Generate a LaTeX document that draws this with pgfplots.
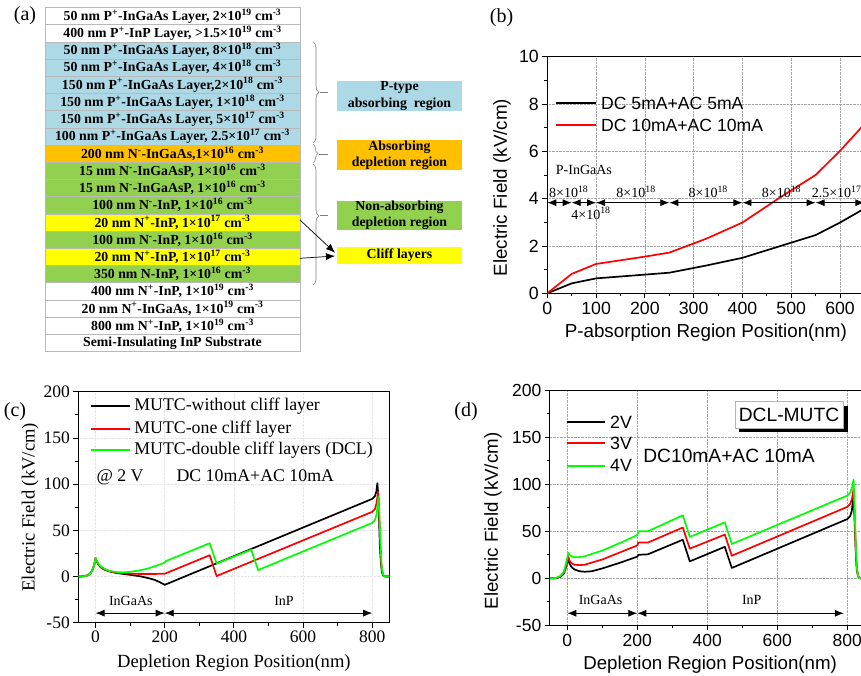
\documentclass[border=0pt]{standalone}
\usepackage{pgfplots}
\pgfplotsset{compat=1.18}
\usepackage{fontspec}
\setmainfont{Liberation Serif}
\newfontfamily\arial{Liberation Sans}
\usetikzlibrary{arrows.meta,decorations.pathreplacing}

\definecolor{lblue}{RGB}{173,216,230}
\definecolor{lorange}{RGB}{255,192,0}
\definecolor{lgreen}{RGB}{146,208,80}
\definecolor{lyellow}{RGB}{255,255,0}
\definecolor{pgreen}{RGB}{0,255,0}

\newcommand{\fs}[1]{\fontsize{#1}{#1}\selectfont}
% one layer of the stack in panel (a): row number, fill, text
\newcommand{\layer}[3]{%
  \draw[draw=gray!55, line width=0.5pt, fill=#2] (45,{7.4+17.2*(#1-1)}) rectangle (300,{7.4+17.2*#1});
  \node[font={\bfseries\fs{13.8}}] at (172.5,{7.4+17.2*(#1-0.5)}) {#3};}
% legend key drawn inside an axis: colour, x0, x1, xtext, y, text
\newcommand{\lkey}[6]{%
  \draw[#1, line width=1.7pt] (axis description cs:#2,#5) -- (axis description cs:#3,#5);
  \node[anchor=west, inner sep=0pt] at (axis description cs:#4,#5) {#6};}

\pgfplotsset{
  myaxis/.style={
    scale only axis, anchor=south west,
    axis line style={line width=0.9pt},
    tick style={line width=0.8pt, black},
    tick align=outside, major tick length=5pt, minor tick length=3pt,
    xtick pos=bottom, ytick pos=left,
    /pgf/number format/assume math mode=true,
    every axis plot/.append style={line width=1.7pt, line join=round},
  },
}
\tikzset{dar/.style={{Latex[length=9pt,width=7pt]}-{Latex[length=9pt,width=7pt]}, line width=0.8pt}}

\begin{document}
\begin{tikzpicture}
\useasboundingbox (0pt,0pt) rectangle (861pt,675pt);
\clip (0pt,0pt) rectangle (861pt,675pt);

% ---------------- (a) layer stack ----------------
\begin{scope}[shift={(0pt,675pt)}, x=1pt, y=-1pt]
\node[font=\fs{20}] at (25,16) {(a)};
\layer{1}{white}{50 nm P\textsuperscript{+}-InGaAs Layer, 2×10\textsuperscript{19} cm\textsuperscript{-3}}
\layer{2}{white}{400 nm P\textsuperscript{+}-InP Layer, >1.5×10\textsuperscript{19} cm\textsuperscript{-3}}
\layer{3}{lblue}{50 nm P\textsuperscript{+}-InGaAs Layer, 8×10\textsuperscript{18} cm\textsuperscript{-3}}
\layer{4}{lblue}{50 nm P\textsuperscript{+}-InGaAs Layer, 4×10\textsuperscript{18} cm\textsuperscript{-3}}
\layer{5}{lblue}{150 nm P\textsuperscript{+}-InGaAs Layer,2×10\textsuperscript{18} cm\textsuperscript{-3}}
\layer{6}{lblue}{150 nm P\textsuperscript{+}-InGaAs Layer, 1×10\textsuperscript{18} cm\textsuperscript{-3}}
\layer{7}{lblue}{150 nm P\textsuperscript{+}-InGaAs Layer, 5×10\textsuperscript{17} cm\textsuperscript{-3}}
\layer{8}{lblue}{100 nm P\textsuperscript{+}-InGaAs Layer, 2.5×10\textsuperscript{17} cm\textsuperscript{-3}}
\layer{9}{lorange}{200 nm N\textsuperscript{-}-InGaAs,1×10\textsuperscript{16} cm\textsuperscript{-3}}
\layer{10}{lgreen}{15 nm N\textsuperscript{-}-InGaAsP, 1×10\textsuperscript{16} cm\textsuperscript{-3}}
\layer{11}{lgreen}{15 nm N\textsuperscript{-}-InGaAsP, 1×10\textsuperscript{16} cm\textsuperscript{-3}}
\layer{12}{lgreen}{100 nm N\textsuperscript{-}-InP, 1×10\textsuperscript{16} cm\textsuperscript{-3}}
\layer{13}{lyellow}{20 nm N\textsuperscript{+}-InP, 1×10\textsuperscript{17} cm\textsuperscript{-3}}
\layer{14}{lgreen}{100 nm N\textsuperscript{-}-InP, 1×10\textsuperscript{16} cm\textsuperscript{-3}}
\layer{15}{lyellow}{20 nm N\textsuperscript{+}-InP, 1×10\textsuperscript{17} cm\textsuperscript{-3}}
\layer{16}{lgreen}{350 nm N-InP, 1×10\textsuperscript{16} cm\textsuperscript{-3}}
\layer{17}{white}{400 nm N\textsuperscript{+}-InP, 1×10\textsuperscript{19} cm\textsuperscript{-3}}
\layer{18}{white}{20 nm N\textsuperscript{+}-InGaAs, 1×10\textsuperscript{19} cm\textsuperscript{-3}}
\layer{19}{white}{800 nm N\textsuperscript{+}-InP, 1×10\textsuperscript{19} cm\textsuperscript{-3}}
\layer{20}{white}{Semi-Insulating InP Substrate}

% braces
\draw[gray, line width=0.6pt, decorate, decoration={brace, amplitude=6pt}] (313,41.7) -- (313,143);
\draw[gray, line width=0.6pt] (320,92.3) -- (328,92.3);
\draw[gray, line width=0.6pt, decorate, decoration={brace, amplitude=5pt}] (313,144) -- (313,163);
\draw[gray, line width=0.6pt] (319,154.3) -- (328,154.3);
\draw[gray, line width=0.6pt, decorate, decoration={brace, amplitude=6pt, aspect=0.43}] (313,164) -- (313,285);
\draw[gray, line width=0.6pt] (320,215.7) -- (328,215.7);

% region boxes
\begin{scope}[every node/.style={align=center, font={\bfseries\fontsize{13.8}{16.3}\selectfont}}]
\fill[lblue] (336.7,81) rectangle (462.3,111);
\node at (399.5,96) {P-type\\absorbing\ \ region};
\fill[lorange] (336.7,140) rectangle (462.3,170);
\node at (399.5,155) {Absorbing\\depletion region};
\fill[lgreen] (336.7,200.7) rectangle (462.3,230);
\node at (399.5,215.3) {Non-absorbing\\depletion region};
\fill[lyellow] (336.7,246.7) rectangle (462.3,264.3);
\node at (399.5,255.5) {Cliff layers};
\end{scope}
\draw[-{Latex[length=9pt,width=7pt]}, line width=0.7pt] (300,220) -- (335,252.7);
\draw[-{Latex[length=9pt,width=7pt]}, line width=0.7pt] (300,258.3) -- (335,256);
\end{scope}

% ---------------- (b) ----------------
\node[font=\fs{20}] at (501.5pt,657pt) {(b)};
\begin{axis}[myaxis, at={(547.3pt,381.7pt)}, width=317.1pt, height=236.6pt,
  xmin=0, xmax=650, ymin=0, ymax=10,
  xtick={0,100,...,600}, ytick={0,2,...,10},
  minor x tick num=1, minor y tick num=1,
  grid=major, grid style={densely dotted, gray!70, line width=0.6pt},
  ticklabel style={font={\arial\fs{17.7}}},
  xlabel={P-absorption Region Position(nm)}, ylabel={Electric Field (kV/cm)},
  label style={font={\arial\fs{18.8}}},
  xlabel style={at={(axis description cs:0.5,-0.168)}, anchor=center},
  ylabel style={at={(axis description cs:-0.143,0.447)}, anchor=center},
]
\addplot[black] coordinates {(0,0) (50,0.42) (100,0.63) (175,0.75) (250,0.87) (325,1.17) (400,1.5) (475,1.98) (550,2.46) (600,2.99) (650,3.58)};
\addplot[red] coordinates {(0,0) (50,0.82) (100,1.24) (200,1.55) (250,1.72) (325,2.3) (400,2.99) (477,4.05) (550,5.0) (600,6.02) (650,7.15)};
\begin{scope}[every node/.style={font={\arial\fs{17.6}}}]
\lkey{black}{0.0274}{0.1536}{0.1693}{0.804}{DC 5mA+AC 5mA}
\lkey{red}{0.0274}{0.1536}{0.1693}{0.711}{DC 10mA+AC 10mA}
\end{scope}
\node[font=\fs{14}] at (axis cs:75,5.21) {P-InGaAs};
\draw[dar] (axis cs:0,3.83) -- (axis cs:50,3.83);
\draw[dar] (axis cs:50,3.83) -- (axis cs:100,3.83);
\draw[dar] (axis cs:100,3.83) -- (axis cs:250,3.83);
\draw[dar] (axis cs:250,3.83) -- (axis cs:400,3.83);
\draw[dar] (axis cs:400,3.83) -- (axis cs:550,3.83);
\draw[dar] (axis cs:550,3.83) -- (axis cs:650,3.83);
\node[font=\fs{14}, inner sep=0pt] at (axis cs:44,4.3) {8×10\textsuperscript{18}};
\node[font=\fs{14}, inner sep=0pt] at (axis cs:89.5,3.38) {4×10\textsuperscript{18}};
\node[font=\fs{14}, inner sep=0pt] at (axis cs:182,4.3) {8×10\textsuperscript{18}};
\node[font=\fs{14}, inner sep=0pt] at (axis cs:330,4.3) {8×10\textsuperscript{18}};
\node[font=\fs{14}, inner sep=0pt] at (axis cs:480,4.3) {8×10\textsuperscript{18}};
\node[font=\fs{14}, inner sep=0pt] at (axis cs:593,4.3) {2.5×10\textsuperscript{17}};
\end{axis}

% ---------------- (c) ----------------
\node[font=\fs{20}] at (15pt,263pt) {(c)};
\begin{axis}[myaxis, at={(78.3pt,52.3pt)}, width=311.2pt, height=231pt,
  xmin=-50, xmax=850, ymin=-50, ymax=200,
  xtick={0,200,...,800}, ytick={-50,0,...,200},
  minor x tick num=1, minor y tick num=1,
  grid=major, grid style={densely dotted, gray!20, line width=0.5pt},
  ticklabel style={font=\fs{17.5}},
  xlabel={Depletion Region Position(nm)}, ylabel={Electric Field (kV/cm)},
  label style={font=\fs{18.6}},
  xlabel style={at={(axis description cs:0.5,-0.174)}, anchor=center},
  ylabel style={at={(axis description cs:-0.155,0.5)}, anchor=center},
]
\addplot[black] coordinates {(-50,0) (-40,0.1) (-30,0.5) (-20,1.8) (-15,3.5) (-10,6.5) (-5,11.5) (-2,16) (0,20)
  (3,17) (8,13) (15,10) (25,7.5) (40,5.5) (60,3.8) (80,2.8) (100,1.8) (125,0.5) (150,-1.5) (170,-3.5) (185,-6) (200,-9)
  (800,84) (808,87) (812,92) (815,101) (818,85) (820,60) (822,35) (825,15) (828,5) (832,1) (840,0) (850,0)};
\addplot[red] coordinates {(-50,0) (-40,0.1) (-30,0.5) (-20,1.8) (-15,3.5) (-10,6.5) (-5,11.5) (-2,16) (0,20)
  (3,17) (8,13) (15,10) (25,7.8) (40,5.8) (60,4.3) (80,3.5) (100,3) (150,2.6) (200,3)
  (330,23) (350,0.5) (800,70) (808,73) (813,80) (817,92) (820,70) (823,40) (826,15) (830,3) (835,0) (850,0)};
\addplot[pgreen] coordinates {(-50,0) (-40,0.1) (-30,0.5) (-20,1.8) (-15,3.5) (-10,6.5) (-5,11.5) (-2,16) (0,20)
  (3,17.5) (8,14) (15,11) (25,8.5) (40,6) (60,4.8) (80,4.5) (100,5) (125,6.5) (150,8.5) (175,11.5) (200,15) (202,16.5)
  (330,36) (350,14) (450,29) (470,7) (800,58) (808,61) (813,68) (818,86) (821,65) (824,35) (827,12) (831,2) (836,0) (850,0)};
\begin{scope}[every node/.style={font=\fs{17.8}}]
\lkey{black}{0.04}{0.1665}{0.1795}{0.937}{MUTC-without cliff layer}
\lkey{red}{0.04}{0.1665}{0.1795}{0.839}{MUTC-one cliff layer}
\lkey{pgreen}{0.04}{0.1665}{0.1795}{0.747}{MUTC-double cliff layers (DCL)}
\end{scope}
\draw[dar] (axis cs:0,-39.6) -- (axis cs:200,-39.6);
\draw[dar] (axis cs:200,-39.6) -- (axis cs:800,-39.6);
\node[font=\fs{14}] at (axis cs:102,-26.3) {InGaAs};
\node[font=\fs{14}] at (axis cs:545,-26.3) {InP};
\end{axis}
\node[font=\fs{17.8}, anchor=west] at (93pt,197.3pt) {@ 2 V\hspace{33pt}DC 10mA+AC 10mA};

% ---------------- (d) ----------------
\node[font=\fs{20}] at (466pt,263pt) {(d)};
\begin{axis}[myaxis, at={(549.8pt,49.7pt)}, width=315pt, height=235pt,
  xmin=-50, xmax=850, ymin=-50, ymax=200,
  xtick={0,200,...,800}, ytick={-50,0,...,200},
  minor x tick num=1, minor y tick num=1,
  grid=major, grid style={densely dotted, gray!70, line width=0.6pt},
  ticklabel style={font={\arial\fs{17.5}}},
  xlabel={Depletion Region Position(nm)}, ylabel={Electric Field (kV/cm)},
  label style={font={\arial\fs{18.7}}},
  xlabel style={at={(axis description cs:0.509,-0.169)}, anchor=center},
  ylabel style={at={(axis description cs:-0.18,0.444)}, anchor=center},
]
\addplot[black] coordinates {(-50,0) (-40,0.1) (-30,0.4) (-20,1.5) (-10,5) (-5,10) (0,17) (3,20)
  (6,16) (12,12) (20,9.5) (35,7.5) (50,7) (70,7.5) (100,10.5) (150,16.5) (200,23) (203,25) (230,25.5)
  (330,41) (350,18) (450,33.5) (470,11) (800,63) (808,66) (813,72) (818,90) (821,60) (824,30) (827,10) (831,2) (836,0) (850,0)};
\addplot[red] coordinates {(-50,0) (-40,0.1) (-30,0.5) (-20,2) (-10,6) (-5,12) (0,19) (3,23)
  (6,19) (12,16) (20,14.5) (35,14) (50,14.5) (100,20) (150,27.5) (200,35) (203,38) (230,38)
  (330,54) (350,31.5) (450,46.5) (470,24) (800,76) (808,79) (813,84) (818,95) (821,65) (824,32) (827,10) (831,2) (836,0) (850,0)};
\addplot[pgreen] coordinates {(-50,0) (-40,0.1) (-30,0.6) (-20,2.5) (-10,7) (-5,14) (0,22) (3,27)
  (6,25) (12,23.5) (20,22.5) (30,22.3) (50,23.5) (100,29.5) (150,37.5) (200,46) (203,50) (230,50)
  (330,67) (350,44) (450,59.5) (470,36.5) (800,88) (808,91) (813,96) (818,105) (821,72) (824,38) (827,12) (831,2) (836,0) (850,0)};
\begin{scope}[every node/.style={font={\arial\fs{17.8}}}]
\lkey{black}{0.0537}{0.1752}{0.1911}{0.8638}{2V}
\lkey{red}{0.0537}{0.1752}{0.1911}{0.7745}{3V}
\lkey{pgreen}{0.0537}{0.1752}{0.1911}{0.6791}{4V}
\end{scope}
\draw[dar] (axis cs:0,-37.2) -- (axis cs:200,-37.2);
\draw[dar] (axis cs:200,-37.2) -- (axis cs:790,-37.2);
\node[font=\fs{14}] at (axis cs:95,-23) {InGaAs};
\node[font=\fs{14}] at (axis cs:527,-23) {InP};
\end{axis}
\fill[black] (739pt,242.7pt) rectangle (847.7pt,269.3pt);
\draw[gray!60, fill=white, line width=0.6pt] (735pt,246.7pt) rectangle (843pt,273.3pt);
\node[font={\arial\fs{19.2}}] at (789pt,260pt) {DCL-MUTC};
\node[font={\arial\fs{19.2}}] at (729pt,219pt) {DC10mA+AC 10mA};
\end{tikzpicture}
\end{document}
